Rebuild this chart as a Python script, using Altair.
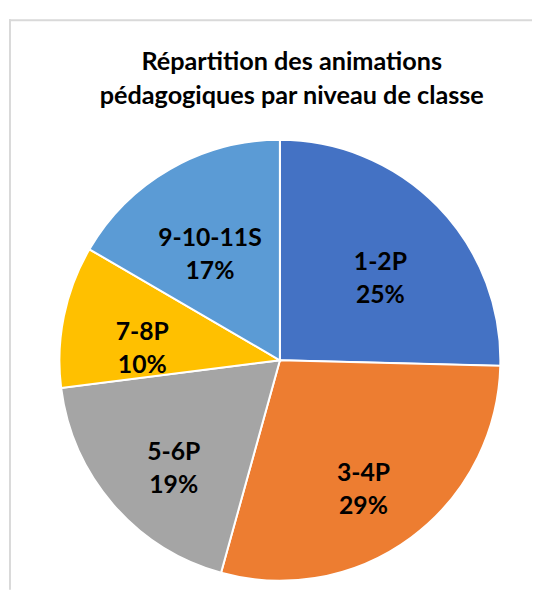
import altair as alt
import pandas as pd

categories = ["1-2P", "3-4P", "5-6P", "7-8P", "9-10-11S"]
shares = [25.4, 28.9, 18.7, 10.4, 16.6]
colors = ["#4472C4", "#ED7D31", "#A5A5A5", "#FFC000", "#5B9BD5"]
title_lines = ["Répartition des animations", "pédagogiques par niveau de classe"]

df = pd.DataFrame({
    "cat": categories,
    "val": shares,
    "idx": list(range(len(categories))),
    "label": [f"{c}\n{round(v)}%" for c, v in zip(categories, shares)],
})

W, H = 530, 585
CX, CY = 275, 353

base = alt.Chart(df).encode(
    theta=alt.Theta("val:Q", stack=True),
    order=alt.Order("idx:Q", sort="ascending"),
)

pie = base.mark_arc(outerRadius=223, stroke="white", strokeWidth=2).encode(
    color=alt.Color("cat:N", scale=alt.Scale(domain=categories, range=colors), legend=None),
    x=alt.value(CX),
    y=alt.value(CY),
)

labels = base.mark_text(
    radius=142, font="Lato", fontWeight="bold", fontSize=25,
    lineBreak="\n", lineHeight=33, align="center", baseline="middle", color="black",
).encode(
    text="label:N",
    x=alt.value(CX),
    y=alt.value(CY),
)

title = alt.Chart(pd.DataFrame({"t": ["\n".join(title_lines)]})).mark_text(
    font="Lato", fontWeight="bold", fontSize=25.5, lineBreak="\n", lineHeight=35,
    align="center", baseline="alphabetic", color="black",
).encode(text="t:N", x=alt.value(287), y=alt.value(59))

border = pd.DataFrame({"k": [0]})
top_rule = alt.Chart(border).mark_rule(color="#D9D9D9", strokeWidth=2).encode(
    x=alt.value(1), x2=alt.value(W), y=alt.value(9)
)
left_rule = alt.Chart(border).mark_rule(color="#D9D9D9", strokeWidth=2).encode(
    x=alt.value(2), y=alt.value(8), y2=alt.value(H)
)

chart = alt.layer(top_rule, left_rule, pie, labels, title).properties(
    width=W, height=H, padding=0, autosize=alt.AutoSizeParams(type="none"),
).configure_view(stroke=None)

chart.save("out.html", embed_options={"renderer": "svg", "actions": False})
